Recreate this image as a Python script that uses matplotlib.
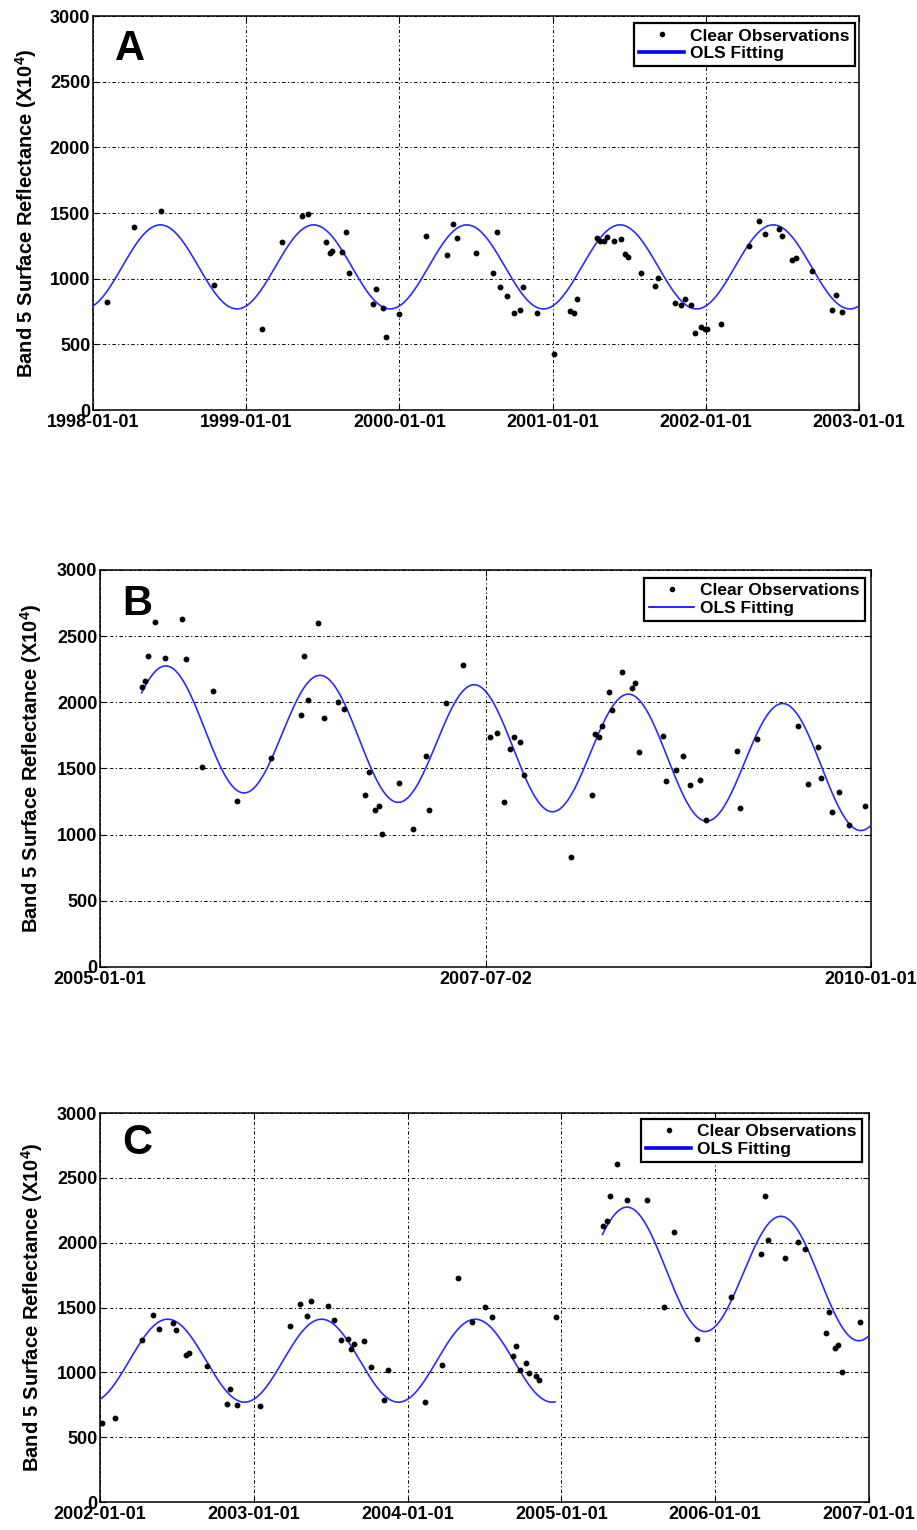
import numpy as np
import matplotlib
matplotlib.use("Agg")
import matplotlib.pyplot as plt
from matplotlib.lines import Line2D

plt.rcParams['font.family'] = ['Liberation Sans', 'DejaVu Sans']
plt.rcParams['font.weight'] = 'bold'
plt.rcParams['mathtext.fontset'] = 'custom'
plt.rcParams['mathtext.rm'] = 'Liberation Sans:bold'
plt.rcParams['mathtext.default'] = 'rm'

# ---------------- data (decimal year, Band 5 reflectance x 1e4) ----------------
a_years = [1998.092, 1998.266, 1998.444, 1998.793,
           1999.100, 1999.233, 1999.366, 1999.405, 1999.518, 1999.547, 1999.562, 1999.627,
           1999.649, 1999.671, 1999.826, 1999.848, 1999.891, 1999.913, 1999.998,
           2000.174, 2000.309, 2000.349, 2000.375, 2000.502, 2000.611, 2000.637, 2000.656,
           2000.702, 2000.746, 2000.785, 2000.807, 2000.898,
           2001.009, 2001.116, 2001.138, 2001.159, 2001.290, 2001.312, 2001.334, 2001.357,
           2001.401, 2001.448, 2001.470, 2001.492, 2001.574, 2001.666, 2001.688, 2001.797,
           2001.840, 2001.862, 2001.906, 2001.928, 2001.971, 2001.993,
           2002.010, 2002.102, 2002.280, 2002.345, 2002.389, 2002.476, 2002.498, 2002.565,
           2002.587, 2002.696, 2002.826, 2002.848, 2002.891]
a_vals = [820, 1391, 1518, 952,
          617, 1279, 1480, 1490, 1279, 1198, 1213, 1200, 1353, 1041, 805, 919, 774, 558, 728,
          1325, 1180, 1416, 1310, 1193, 1046, 1353, 934, 871, 736, 761, 937, 741,
          426, 756, 741, 845, 1307, 1284, 1284, 1320, 1284, 1305, 1185, 1168, 1046, 944, 1008,
          812, 799, 845, 799, 589, 635, 614,
          614, 655, 1249, 1442, 1338, 1381, 1325, 1142, 1155, 1058, 761, 876, 749]

b_years = [2005.270, 2005.292, 2005.314, 2005.357, 2005.422, 2005.534, 2005.556, 2005.664,
           2005.731, 2005.887,
           2006.107, 2006.302, 2006.324, 2006.347, 2006.412, 2006.455, 2006.546, 2006.585,
           2006.719, 2006.741, 2006.784, 2006.806, 2006.828, 2006.936,
           2007.029, 2007.113, 2007.135, 2007.245, 2007.353, 2007.526, 2007.574, 2007.617,
           2007.660, 2007.686, 2007.725, 2007.747,
           2008.056, 2008.190, 2008.211, 2008.233, 2008.255, 2008.298, 2008.320, 2008.385,
           2008.449, 2008.471, 2008.497, 2008.648, 2008.670, 2008.735, 2008.781, 2008.824,
           2008.889, 2008.932,
           2009.131, 2009.152, 2009.260, 2009.526, 2009.591, 2009.656, 2009.677, 2009.747,
           2009.790, 2009.855, 2009.963]
b_vals = [2119, 2162, 2353, 2603, 2333, 2628, 2328, 1510, 2087, 1256,
          1581, 1905, 2353, 2019, 2598, 1878, 2001, 1948, 1301, 1472, 1188, 1213, 1004, 1387,
          1042, 1591, 1183, 1993, 2278, 1734, 1769, 1246, 1649, 1739, 1699, 1452,
          828, 1299, 1757, 1734, 1817, 2074, 1943, 2228, 2109, 2144, 1623, 1744, 1402, 1490,
          1596, 1377, 1410, 1113,
          1634, 1198, 1719, 1817, 1384, 1661, 1427, 1168, 1321, 1070, 1213]

c_years = [2002.011, 2002.100, 2002.275, 2002.342, 2002.386, 2002.472, 2002.494, 2002.559,
           2002.581, 2002.694, 2002.824, 2002.845, 2002.889,
           2003.040, 2003.238, 2003.303, 2003.346, 2003.372, 2003.480, 2003.524, 2003.567,
           2003.610, 2003.632, 2003.654, 2003.719, 2003.762, 2003.849, 2003.870,
           2004.113, 2004.222, 2004.326, 2004.417, 2004.504, 2004.551, 2004.684, 2004.705,
           2004.731, 2004.770, 2004.791, 2004.835, 2004.857, 2004.965,
           2005.273, 2005.295, 2005.316, 2005.360, 2005.425, 2005.559, 2005.667, 2005.732,
           2005.884,
           2006.101, 2006.298, 2006.324, 2006.346, 2006.454, 2006.541, 2006.584, 2006.718,
           2006.740, 2006.779, 2006.801, 2006.823, 2006.938]
c_vals = [612, 648, 1247, 1440, 1337, 1380, 1324, 1136, 1149, 1051, 758, 871, 746,
          738, 1357, 1524, 1432, 1548, 1514, 1401, 1247, 1260, 1183, 1221, 1242, 1041, 784, 1021,
          769, 1059, 1728, 1388, 1506, 1424, 1123, 1201, 1015, 1069, 995, 974, 938, 1427,
          2126, 2165, 2360, 2609, 2332, 2332, 1507, 2086, 1254,
          1581, 1910, 2357, 2023, 1879, 2005, 1951, 1301, 1465, 1190, 1213, 1003, 1388]

# OLS harmonic model coefficients: [intercept, slope per year, cos(2*pi*t), sin(2*pi*t)]
fit_1998 = [1090.0, 0.0, -297.5, 117.8]     # reference year 1998
fit_2005 = [1843.0, -71.0, -418.0, 196.7]   # reference year 2005

# fitted segments per panel: (coefficients, reference year, start, end)
a_segments = [(fit_1998, 1998.0, 1998.0, 2003.0)]
b_segments = [(fit_2005, 2005.0, 2005.27, 2010.0)]
c_segments = [(fit_1998, 1998.0, 2002.0, 2004.958), (fit_2005, 2005.0, 2005.267, 2007.0)]

a_ticks = [1998, 1999, 2000, 2001, 2002, 2003]
a_labels = ['1998-01-01', '1999-01-01', '2000-01-01', '2001-01-01', '2002-01-01', '2003-01-01']
b_ticks = [2005, 2007.5, 2010]
b_labels = ['2005-01-01', '2007-07-02', '2010-01-01']
c_ticks = [2002, 2003, 2004, 2005, 2006, 2007]
c_labels = ['2002-01-01', '2003-01-01', '2004-01-01', '2005-01-01', '2006-01-01', '2007-01-01']

y_ticks = [0, 500, 1000, 1500, 2000, 2500, 3000]


def model(coef, ref, t):
    c0, c1, ca, sb = coef
    return c0 + c1 * (t - ref) + ca * np.cos(2 * np.pi * t) + sb * np.sin(2 * np.pi * t)


BLUE = '#2b2bff'
fig = plt.figure(figsize=(9.17, 15.30), dpi=100)

panels = [
    dict(rect=[0.1014, 0.7320, 0.8354, 0.2575], years=a_years, vals=a_vals, segs=a_segments,
         ticks=a_ticks, labels=a_labels, letter='A', leg_anchor=(0.9948, 0.982), leg_lw=2.6,
         ylab_x=-0.0875, letter_y=0.888),
    dict(rect=[0.1091, 0.3680, 0.8408, 0.2595], years=b_years, vals=b_vals, segs=b_segments,
         ticks=b_ticks, labels=b_labels, letter='B', leg_anchor=(0.9922, 0.980), leg_lw=1.2,
         ylab_x=-0.0895, letter_y=0.887),
    dict(rect=[0.1091, 0.0183, 0.8386, 0.2542], years=c_years, vals=c_vals, segs=c_segments,
         ticks=c_ticks, labels=c_labels, letter='C', leg_anchor=(0.991, 0.985), leg_lw=2.6,
         ylab_x=-0.0884, letter_y=0.895),
]

for p in panels:
    ax = fig.add_axes(p['rect'])
    for coef, ref, t0, t1 in p['segs']:
        t = np.linspace(t0, t1, 600)
        ax.plot(t, model(coef, ref, t), color=BLUE, lw=1.2, zorder=3)
    ax.plot(p['years'], p['vals'], ls='none', marker='o', ms=3.2, color='k', zorder=4)

    ax.set_xlim(p['ticks'][0], p['ticks'][-1])
    ax.set_ylim(0, 3000)
    ax.set_xticks(p['ticks'])
    ax.set_xticklabels(p['labels'])
    ax.set_yticks(y_ticks)
    ax.set_yticklabels([str(v) for v in y_ticks])
    ax.tick_params(direction='in', top=True, right=True, length=4, width=0.8,
                   labelsize=13, pad=2)
    ax.tick_params(axis='x', pad=3)
    for lab in ax.get_xticklabels() + ax.get_yticklabels():
        lab.set_fontweight('bold')
    ax.grid(True, color='k', lw=0.7, linestyle=(0, (3.5, 2.5, 1.2, 2.5)))
    for s in ax.spines.values():
        s.set_linewidth(1.1)
        s.set_color('k')

    ax.set_ylabel('Band 5 Surface Reflectance (X10$^4$)', fontsize=14.5, fontweight='bold',
                  va='center')
    ax.yaxis.set_label_coords(p['ylab_x'], 0.5)

    ax.text(0.029, p['letter_y'], p['letter'], transform=ax.transAxes, fontsize=30,
            fontweight='bold', ha='left', va='baseline')

    handles = [Line2D([], [], ls='none', marker='o', ms=3.0, color='k'),
               Line2D([], [], color='#0000ff', lw=p['leg_lw'])]
    leg = ax.legend(handles, ['Clear Observations', 'OLS Fitting'], loc='upper right',
                    bbox_to_anchor=p['leg_anchor'], borderaxespad=0, fancybox=False,
                    framealpha=1, edgecolor='k', prop=dict(size=12.5, weight='bold'),
                    handlelength=2.6, handletextpad=0.35, borderpad=0.3,
                    labelspacing=0.15)
    leg.get_frame().set_linewidth(1.6)
    leg.set_zorder(10)

fig.savefig('out.png', dpi=100, facecolor='white')
